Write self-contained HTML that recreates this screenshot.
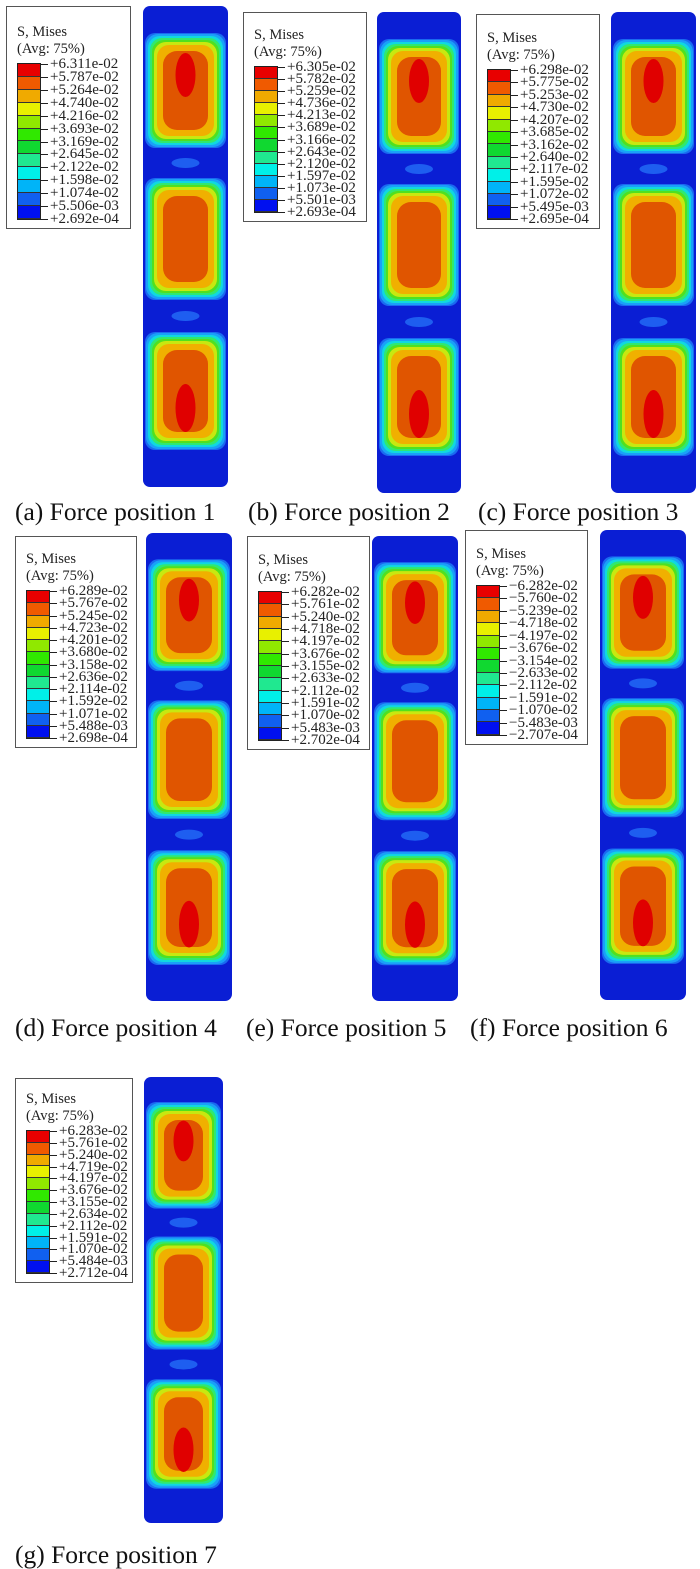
<!DOCTYPE html>
<html><head><meta charset="utf-8">
<style>
body{margin:0;background:#fff;width:700px;height:1568px;position:relative;overflow:hidden;font-family:"Liberation Serif",serif}
.lg{position:absolute;border:1.5px solid #555;background:#fff;box-sizing:border-box}
.lg .t{position:absolute;left:10px;font-size:14.5px;color:#222;line-height:1}
.lg .sw{position:absolute;left:10px;width:22px;border:1px solid #222}
.lg .sw div{border-bottom:1px solid #333;box-sizing:border-box}
.lg .lb{position:absolute;left:33px;font-size:15px;line-height:1;color:#222;white-space:nowrap}
.lg .lb span{display:inline-block;width:8px;border-top:1px solid #222;vertical-align:middle;margin-right:2px}
.cap{position:absolute;font-size:25.5px;color:#111;white-space:nowrap;line-height:1}
svg{position:absolute;left:0;top:0}
</style></head><body>
<svg id="s" width="700" height="1568"></svg>

<div class="cap" style="left:15px;top:499px">(a) Force position 1</div>
<div class="cap" style="left:248px;top:499px">(b) Force position 2</div>
<div class="cap" style="left:478px;top:499px">(c) Force position 3</div>
<div class="cap" style="left:15px;top:1015px">(d) Force position 4</div>
<div class="cap" style="left:246px;top:1015px">(e) Force position 5</div>
<div class="cap" style="left:470px;top:1015px">(f) Force position 6</div>
<div class="cap" style="left:15px;top:1542px">(g) Force position 7</div>

<div id="legs"></div>
<script>
var cols=["#e80000","#f05a00","#f0aa00","#e8f000","#90e800","#30e800","#10d830","#20e890","#00f0e8","#00b4f8","#1060f0","#0010f0"];
var L=[
[6,6,125,223,["+6.311e-02","+5.787e-02","+5.264e-02","+4.740e-02","+4.216e-02","+3.693e-02","+3.169e-02","+2.645e-02","+2.122e-02","+1.598e-02","+1.074e-02","+5.506e-03","+2.692e-04"]],
[243,12,124,210,["+6.305e-02","+5.782e-02","+5.259e-02","+4.736e-02","+4.213e-02","+3.689e-02","+3.166e-02","+2.643e-02","+2.120e-02","+1.597e-02","+1.073e-02","+5.501e-03","+2.693e-04"]],
[476,14,124,215,["+6.298e-02","+5.775e-02","+5.253e-02","+4.730e-02","+4.207e-02","+3.685e-02","+3.162e-02","+2.640e-02","+2.117e-02","+1.595e-02","+1.072e-02","+5.495e-03","+2.695e-04"]],
[15,536,122,212,["+6.289e-02","+5.767e-02","+5.245e-02","+4.723e-02","+4.201e-02","+3.680e-02","+3.158e-02","+2.636e-02","+2.114e-02","+1.592e-02","+1.071e-02","+5.488e-03","+2.698e-04"]],
[247,536,123,214,["+6.282e-02","+5.761e-02","+5.240e-02","+4.718e-02","+4.197e-02","+3.676e-02","+3.155e-02","+2.633e-02","+2.112e-02","+1.591e-02","+1.070e-02","+5.483e-03","+2.702e-04"]],
[465,530,123,215,["\u22126.282e-02","\u22125.760e-02","\u22125.239e-02","\u22124.718e-02","\u22124.197e-02","\u22123.676e-02","\u22123.154e-02","\u22122.633e-02","\u22122.112e-02","\u22121.591e-02","\u22121.070e-02","\u22125.483e-03","\u22122.707e-04"]],
[15,1078,118,205,["+6.283e-02","+5.761e-02","+5.240e-02","+4.719e-02","+4.197e-02","+3.676e-02","+3.155e-02","+2.634e-02","+2.112e-02","+1.591e-02","+1.070e-02","+5.484e-03","+2.712e-04"]]];
var h="";
L.forEach(function(l){
 var x=l[0],y=l[1],w=l[2],ht=l[3],lab=l[4];
 var sy=Math.round(ht*0.25);
 var step=(ht-sy-12)/12;
 h+='<div class="lg" style="left:'+x+'px;top:'+y+'px;width:'+w+'px;height:'+ht+'px">';
 h+='<div class="t" style="top:'+(sy-38)+'px">S, Mises</div><div class="t" style="top:'+(sy-21)+'px">(Avg: 75%)</div>';
 h+='<div class="sw" style="top:'+sy+'px">';
 cols.forEach(function(c){h+='<div style="background:'+c+';height:'+step+'px"></div>'});
 h+='</div>';
 lab.forEach(function(t,i){h+='<div class="lb" style="top:'+(sy+i*step-6)+'px"><span></span>'+t+'</div>'});
 h+='</div>';
});
document.getElementById('legs').innerHTML=h;

var C=[[143,6,85,481,0],[377,12,84,481,0],[611,12,85,481,0],[146,533,86,468,1],[372,536,86,465,1],[600,530,86,470,1],[144,1077,79,446,1]];
var s="";
var lay=[["#1a6af0",2,0,10],["#1aa0f8",3,1,12],["#10d8e0",5,3,12],["#30e870",7,5,12],["#50e020",9,7,12],["#c8e810",11,9,12],["#f0b000",14,12,12],["#e05500",20,18,14]];
C.forEach(function(c){
 var x=c[0],y=c[1],w=c[2],H=c[3],k=H/481;
 function Y(v){return y+v*k}
 s+='<rect x="'+x+'" y="'+y+'" width="'+w+'" height="'+H+'" rx="7" fill="#0a1ed4"/>';
 var segs=[[27,142,0],[172,294,1],[326,444,2]];
 segs.forEach(function(g){
  var y1=Y(g[0]),y2=Y(g[1]);
  lay.forEach(function(L){
   s+='<rect x="'+(x+L[1])+'" y="'+(y1+L[2])+'" width="'+(w-2*L[1])+'" height="'+(y2-y1-2*L[2])+'" rx="'+L[3]+'" fill="'+L[0]+'"/>';
  });
  var cx=x+w/2;
  if(g[2]==0) s+='<ellipse cx="'+cx+'" cy="'+(y1+42*k)+'" rx="10" ry="'+(22*k)+'" fill="#e00000"/>';
  if(g[2]==2) s+='<ellipse cx="'+cx+'" cy="'+(y2-42*k)+'" rx="10" ry="'+(24*k)+'" fill="#e00000"/>';
 });
 s+='<ellipse cx="'+(x+w/2)+'" cy="'+Y(157)+'" rx="14" ry="5" fill="#1e5ef0"/>';
 s+='<ellipse cx="'+(x+w/2)+'" cy="'+Y(310)+'" rx="14" ry="5" fill="#1e5ef0"/>';
});
document.getElementById('s').innerHTML=s;
</script>
</body></html>
